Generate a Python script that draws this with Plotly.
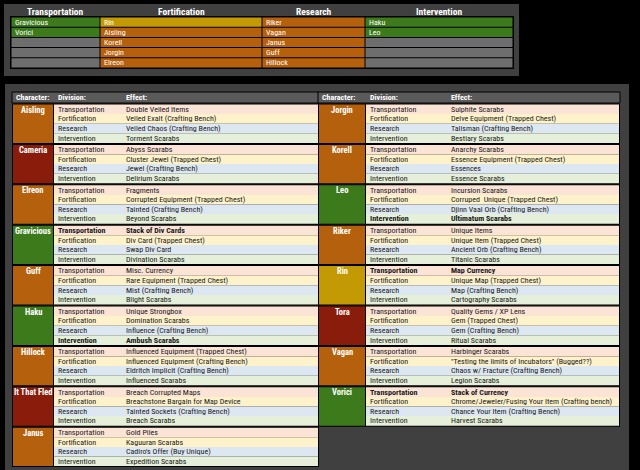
import plotly.graph_objects as go

divisions = ["Transportation", "Fortification", "Research", "Intervention"]
top_cols = [["Gravicious", "Vorici"],
            ["Rin", "Aisling", "Korell", "Jorgin", "Elreon"],
            ["Riker", "Vagan", "Janus", "Guff", "Hillock"],
            ["Haku", "Leo"]]
left_chars = ["Aisling", "Cameria", "Elreon", "Gravicious", "Guff", "Haku", "Hillock", "It That Fled", "Janus"]
right_chars = ["Jorgin", "Korell", "Leo", "Riker", "Rin", "Tora", "Vagan", "Vorici"]
char_kind = {"Aisling": "o", "Cameria": "r", "Elreon": "o", "Gravicious": "g", "Guff": "o", "Haku": "g",
             "Hillock": "o", "It That Fled": "r", "Janus": "o", "Jorgin": "o", "Korell": "o", "Leo": "g",
             "Riker": "o", "Rin": "y", "Tora": "r", "Vagan": "o", "Vorici": "g"}
effects = {
    "Aisling": ["Double Veiled Items", "Veiled Exalt (Crafting Bench)", "Veiled Chaos (Crafting Bench)", "Torment Scarabs"],
    "Cameria": ["Abyss Scarabs", "Cluster Jewel (Trapped Chest)", "Jewel (Crafting Bench)", "Delirium Scarabs"],
    "Elreon": ["Fragments", "Corrupted Equipment (Trapped Chest)", "Tainted (Crafting Bench)", "Beyond Scarabs"],
    "Gravicious": ["Stack of Div Cards", "Div Card (Trapped Chest)", "Swap Div Card", "Divination Scarabs"],
    "Guff": ["Misc. Currency", "Rare Equipment (Trapped Chest)", "Mist (Crafting Bench)", "Blight Scarabs"],
    "Haku": ["Unique Strongbox", "Domination Scarabs", "Influence (Crafting Bench)", "Ambush Scarabs"],
    "Hillock": ["Influenced Equipment (Trapped Chest)", "Influenced Equipment (Crafting Bench)", "Eldritch Implicit (Crafting Bench)", "Influenced Scarabs"],
    "It That Fled": ["Breach Corrupted Maps", "Breachstone Bargain for Map Device", "Tainted Sockets (Crafting Bench)", "Breach Scarabs"],
    "Janus": ["Gold Piles", "Kaguuran Scarabs", "Cadiro's Offer (Buy Unique)", "Expedition Scarabs"],
    "Jorgin": ["Sulphite Scarabs", "Delve Equipment (Trapped Chest)", "Talisman (Crafting Bench)", "Bestiary Scarabs"],
    "Korell": ["Anarchy Scarabs", "Essence Equipment (Trapped Chest)", "Essences", "Essence Scarabs"],
    "Leo": ["Incursion Scarabs", "Corruped  Unique (Trapped Chest)", "Djinn Vaal Orb (Crafting Bench)", "Ultimatum Scarabs"],
    "Riker": ["Unique Items", "Unique Item (Trapped Chest)", "Ancient Orb (Crafting Bench)", "Titanic Scarabs"],
    "Rin": ["Map Currency", "Unique Map (Trapped Chest)", "Map (Crafting Bench)", "Cartography Scarabs"],
    "Tora": ["Quality Gems / XP Lens", "Gem (Trapped Chest)", "Gem (Crafting Bench)", "Ritual Scarabs"],
    "Vagan": ["Harbinger Scarabs", "\"Testing the limits of Incubators\" (Bugged??)", "Chaos w/ Fracture (Crafting Bench)", "Legion Scarabs"],
    "Vorici": ["Stack of Currency", "Chrome/Jeweler/Fusing Your Item (Crafting bench)", "Chance Your Item (Crafting Bench)", "Harvest Scarabs"],
}
bold_rows = {"Gravicious": 0, "Haku": 3, "Leo": 3, "Rin": 0, "Vorici": 0}

KC = {"o": "#b5600c", "r": "#8a1c0c", "g": "#3c7a1c", "y": "#c49a04"}
ROWC = ["#fbe3d6", "#fef2cb", "#dde7f2", "#e6efd9"]
FONT = "Liberation Sans Narrow, Roboto Condensed, Roboto"
shapes, anns = [], []

def rect(x0, y0, x1, y1, fill, line=None, lw=0):
    shapes.append(dict(type="rect", x0=x0, y0=y0, x1=x1, y1=y1, fillcolor=fill,
                       line=dict(color=line or fill, width=lw), layer="below"))

def txt(x, y, s, color="#1a1a1a", size=8, bold=False, anchor="left"):
    anns.append(dict(x=x, y=y, text=f"<b>{s}</b>" if bold else s, showarrow=False, xanchor=anchor,
                     yanchor="middle", font=dict(family=FONT, size=size, color=color)))

rect(0, 0, 640, 470, "#000000")
rect(4, 4, 519, 76, "#404040")
rect(5, 84, 629, 470, "#404040")

cx = [11, 100, 262, 365, 513]
ry0, rh = 17, 10.2
heads = ["Transportation", "Fortification", "Research", "Intervention"]
rect(cx[0] - 1, ry0 - 1, cx[-1] + 1, ry0 + 5 * rh + 1, "#000000")
for c in range(4):
    txt((cx[c] + cx[c + 1]) / 2, 11, heads[c], "#ffffff", 9.5, True, "center")
    for r in range(5):
        if r < len(top_cols[c]):
            nm = top_cols[c][r]
            fill = KC[char_kind[nm]]
        else:
            nm, fill = "", "#6e6e6e"
        rect(cx[c] + 0.5, ry0 + r * rh + 0.5, cx[c + 1] - 0.5, ry0 + (r + 1) * rh - 0.5, fill)
        if nm:
            txt(cx[c] + 2, ry0 + (r + 0.5) * rh, nm, "#ffffff", 8)

def table(chars, x0, xd, xe, x1):
    hy0, hy1 = 92, 103
    rect(x0, hy0, x1, hy1, "#5a5a5a", "#000000", 1)
    txt(x0 + 2, (hy0 + hy1) / 2, "Character:", "#ffffff", 8, True)
    txt(xd + 2, (hy0 + hy1) / 2, "Division:", "#ffffff", 8, True)
    txt(xe + 2, (hy0 + hy1) / 2, "Effect:", "#ffffff", 8, True)
    bh = 40.4
    for i, ch in enumerate(chars):
        by = 103.5 + i * bh
        rect(x0, by, x1, by + bh, "#000000")
        rect(x0 + 1, by + 1, xd - 1, by + bh - 1, KC[char_kind[ch]])
        txt((x0 + xd) / 2, by + 6, ch, "#ffffff", 8.5, True, "center")
        for r in range(4):
            y = by + 1 + r * (bh - 2) / 4
            rect(xd, y, x1 - 1, y + (bh - 2) / 4, ROWC[r])
            b = bold_rows.get(ch) == r
            txt(xd + 2, y + (bh - 2) / 8, divisions[r], "#1a1a1a", 8, b)
            txt(xe + 2, y + (bh - 2) / 8, effects[ch][r], "#1a1a1a", 8, b)

table(left_chars, 12, 54, 122, 319)
table(right_chars, 318, 366, 447, 620)

fig = go.Figure()
fig.update_layout(width=640, height=470, margin=dict(l=0, r=0, t=0, b=0),
                  paper_bgcolor="#000000", plot_bgcolor="#000000",
                  xaxis=dict(range=[0, 640], visible=False, fixedrange=True),
                  yaxis=dict(range=[470, 0], visible=False, fixedrange=True),
                  shapes=shapes, annotations=anns, showlegend=False)
fig.write_html("out.html", config={"displayModeBar": False},
               post_script="document.body.style.margin='0';document.body.style.background='#000';document.body.style.overflow='hidden';")
